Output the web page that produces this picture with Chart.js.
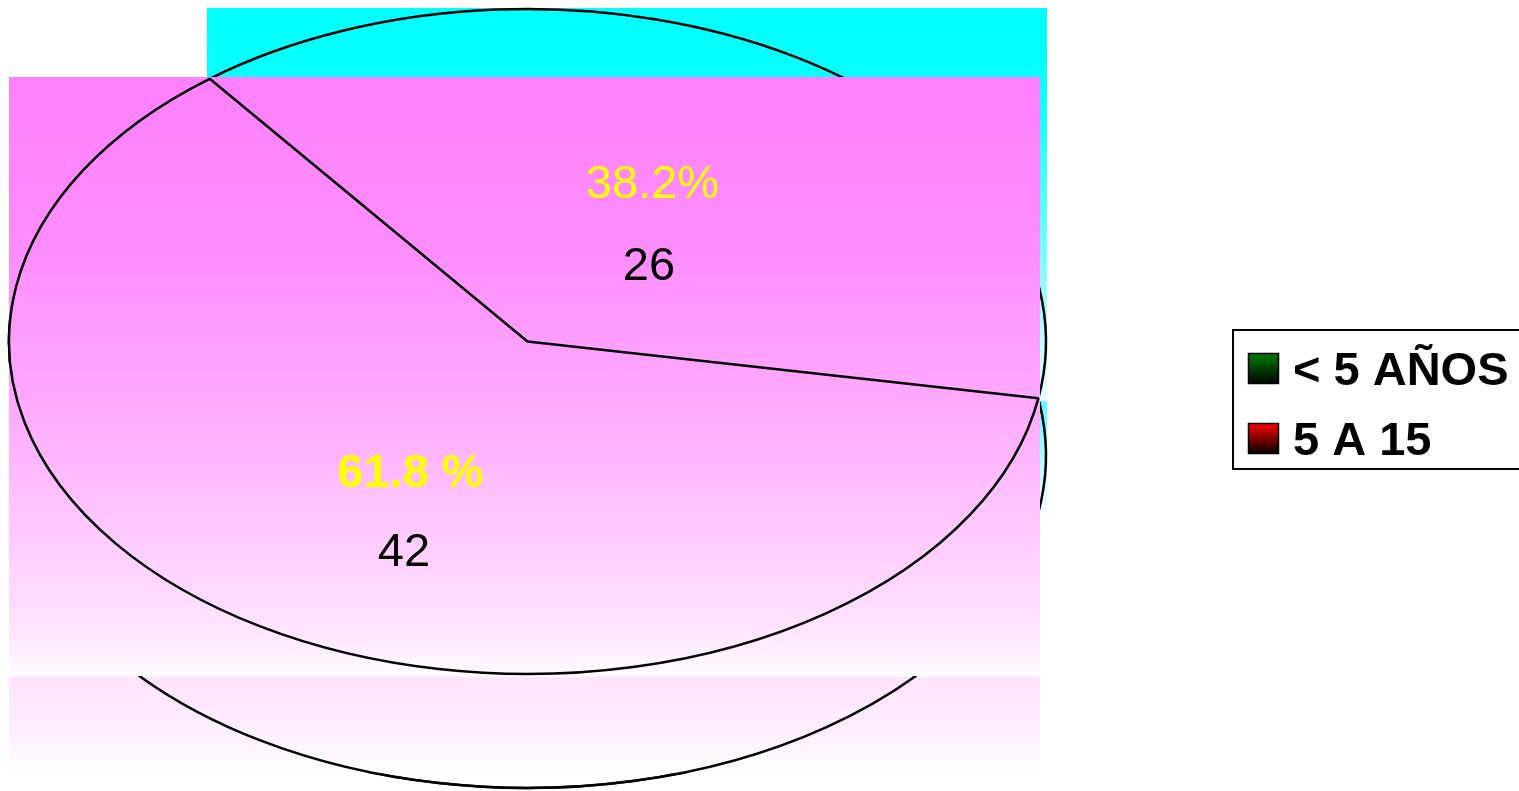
<!DOCTYPE html>
<html>
<head>
<meta charset="utf-8">
<title>Pacientes por grupo de edad</title>
<script src="https://cdn.jsdelivr.net/npm/chart.js@4/dist/chart.umd.min.js"></script>
<style>
  html, body { margin: 0; padding: 0; background: #fff; overflow: hidden; }
  canvas { display: block; }
</style>
</head>
<body>
<canvas id="pie" width="1519" height="791"></canvas>
<script>
// Age groups and patient counts
const categories = ['< 5 AÑOS', '5 A 15'];
const counts = [26, 42];
const groupColors = ['#008000', '#FF0000'];
// suffix used after each percentage label
const percentSuffix = ['%', ' %'];

const FONT = '"Liberation Sans", Arial, Helvetica, sans-serif';

// Geometry of the tilted pie (screen pixels)
const PIE = {
  rx: 518.5,          // horizontal radius
  ry: 332.5,          // vertical radius
  depth: 114,         // height of the pie side
  rotation: -37.8
};

// Text placement relative to the pie centre, per slice
const LABEL_STYLE = [
  { pct: { dx: 125, dy: -143.5, weight: 'normal' }, val: { dx: 121.5, dy: -61.5 } },
  { pct: { dx: -117, dy: 145.5, weight: 'bold' },   val: { dx: -123.5, dy: 224.5 } }
];

function linear(ctx, y0, y1, stops) {
  const g = ctx.createLinearGradient(0, y0, 0, y1);
  stops.forEach(s => g.addColorStop(s[0], s[1]));
  return g;
}

// Draw under an elliptical transform, but stroke with an identity transform
// so that outlines keep a uniform width.
function inEllipse(chart, shiftY, fn) {
  const ctx = chart.ctx;
  const arc = chart.getDatasetMeta(0).data[0];
  const cx = arc.x, cy = arc.y;
  const k = PIE.ry / PIE.rx;
  const dpr = chart.currentDevicePixelRatio || 1;
  ctx.save();
  ctx.translate(0, shiftY);
  ctx.translate(cx, cy);
  ctx.scale(1, k);
  ctx.translate(-cx, -cy);
  const base = CanvasRenderingContext2D.prototype.stroke;
  ctx.stroke = function (...args) {
    this.save();
    this.setTransform(dpr, 0, 0, dpr, 0, 0);
    base.apply(this, args);
    this.restore();
  };
  fn(ctx);
  delete ctx.stroke;
  ctx.restore();
}

const layeredPie = {
  id: 'layeredPie',
  beforeDatasetsDraw(chart) {
    const ctx = chart.ctx;
    const arcs = chart.getDatasetMeta(0).data;
    const cx = arcs[0].x, cy = arcs[0].y;

    // cyan back layer
    ctx.save();
    ctx.fillStyle = linear(ctx, 8, 400, [[0, '#00FFFF'], [0.2, '#08FFFF'], [0.6, '#70FFFF'], [1, '#E8FFFF']]);
    ctx.fillRect(207, 8, 840, 391);
    ctx.fillStyle = linear(ctx, 401, 520, [[0, '#58FFFF'], [1, '#FFFFFF']]);
    ctx.fillRect(207, 401, 840, 119);
    ctx.restore();

    // pie side and top outlines
    ctx.save();
    ctx.beginPath();
    ctx.rect(10, 0, chart.width - 10, chart.height);
    ctx.clip();
    inEllipse(chart, PIE.depth, c => arcs.forEach(a => a.draw(c)));
    ctx.restore();
    inEllipse(chart, 0, c => arcs.forEach(a => a.draw(c)));

    // magenta face layer
    ctx.save();
    ctx.fillStyle = linear(ctx, 77, 676, [
      [0, '#FF80FF'], [0.3, '#FF8EFF'], [0.55, '#FFAAFF'],
      [0.87, '#FFDAFF'], [0.94, '#FFE8FF'], [1, '#FFFCFF']
    ]);
    ctx.fillRect(9, 77, 1031, 599);
    ctx.fillStyle = linear(ctx, 677, 773, [[0, '#FFE2FF'], [0.6, '#FFEEFF'], [1, '#FFFFFF']]);
    ctx.fillRect(9, 677, 1031, 96);
    ctx.restore();

    // larger slice outline on top of the face
    inEllipse(chart, 0, c => arcs[1].draw(c));

    // lower rim of the side
    ctx.save();
    ctx.beginPath();
    ctx.rect(0, 677, chart.width, chart.height - 677);
    ctx.clip();
    inEllipse(chart, PIE.depth, c => arcs.forEach(a => a.draw(c)));
    ctx.restore();

    // value and percentage labels
    const total = counts.reduce((s, v) => s + v, 0);
    ctx.save();
    ctx.textAlign = 'center';
    ctx.textBaseline = 'alphabetic';
    counts.forEach((v, i) => {
      const st = LABEL_STYLE[i];
      const pct = (v / total * 100).toFixed(1) + percentSuffix[i];
      ctx.font = `${st.pct.weight} 47px ${FONT}`;
      ctx.fillStyle = '#FFFF00';
      ctx.fillText(pct, cx + st.pct.dx, cy + st.pct.dy);
      ctx.font = `normal 47px ${FONT}`;
      ctx.fillStyle = '#000000';
      ctx.fillText(String(v), cx + st.val.dx, cy + st.val.dy);
    });
    ctx.restore();
    return false;
  },
  afterDraw(chart) {
    // legend box
    const ctx = chart.ctx;
    ctx.save();
    ctx.lineWidth = 2;
    ctx.strokeStyle = '#000';
    ctx.strokeRect(1233, 330, 320, 139);
    categories.forEach((label, i) => {
      const top = 353 + i * 70;
      const g = ctx.createLinearGradient(0, top, 0, top + 31);
      g.addColorStop(0, groupColors[i]);
      g.addColorStop(1, '#000000');
      ctx.fillStyle = g;
      ctx.fillRect(1248, top, 31, 31);
      ctx.lineWidth = 1.5;
      ctx.strokeRect(1248.5, top + 0.5, 30, 30);
      ctx.fillStyle = '#000';
      ctx.font = `bold 47px ${FONT}`;
      ctx.textAlign = 'left';
      ctx.textBaseline = 'alphabetic';
      ctx.fillText(label, 1293, top + 32);
    });
    ctx.restore();
  }
};

new Chart(document.getElementById('pie'), {
  type: 'pie',
  data: {
    labels: categories,
    datasets: [{
      data: counts,
      backgroundColor: 'rgba(0,0,0,0)',
      borderColor: '#000000',
      borderWidth: 2.5,
      hoverOffset: 0
    }]
  },
  options: {
    responsive: false,
    animation: false,
    events: [],
    rotation: PIE.rotation,
    radius: PIE.rx,
    layout: { padding: { left: 0, right: 464, top: 0, bottom: 108 } },
    plugins: {
      legend: { display: false },
      tooltip: { enabled: false }
    }
  },
  plugins: [layeredPie]
});
</script>
</body>
</html>
